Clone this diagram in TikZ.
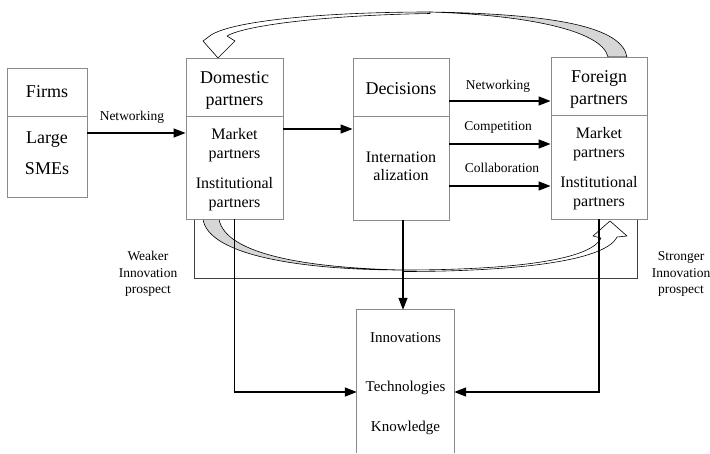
\documentclass[tikz,border=0pt]{standalone}
\usepackage{fontspec}
\setmainfont{Liberation Serif}
\usetikzlibrary{arrows.meta,calc}
\definecolor{boxgray}{HTML}{8A8A8A}
\definecolor{ribbon}{HTML}{D6D6D6}
\begin{document}
\begin{tikzpicture}[x=1pt,y=-1pt,
  box/.style={draw=boxgray,line width=0.9pt,fill=white,inner sep=0pt},
  divider/.style={draw=boxgray,line width=0.9pt},
  title/.style={font=\fontsize{18}{22}\selectfont,align=center,inner sep=0pt},
  body/.style={font=\fontsize{16}{19}\selectfont,align=center,inner sep=0pt},
  lbl/.style={font=\fontsize{13.5}{16.5}\selectfont,align=center,inner sep=0pt},
  inn/.style={font=\fontsize{15}{18}\selectfont,inner sep=0pt},
  conn/.style={line width=1.5pt,-{Triangle[length=12pt,width=9pt]}},
  frame/.style={draw=black!75,line width=0.9pt},
  rib/.style={draw=black,line width=0.6pt,line join=round}]
\useasboundingbox (0,0) rectangle (710,453);

% open frame under the partner boxes
\draw[frame] (194,219) -- (194,278) -- (637,278) -- (637,219);

% curved ribbon arrows
\filldraw[rib,fill=ribbon] (627,57) .. controls (622,28) and (560,14) .. (430,12)
  .. controls (525,15) and (602,30) .. (608,57) -- cycle;
\filldraw[rib,fill=white] (430,12) .. controls (330,12) and (235,20) .. (211,35)
  -- (203,41) -- (218,58) -- (235,41) -- (227,36)
  .. controls (245,25) and (330,15) .. (430,13.5) -- cycle;
\filldraw[rib,fill=ribbon] (203,219) .. controls (208,255) and (300,270) .. (403,270)
  .. controls (310,268) and (225,255) .. (219,219) -- cycle;
\filldraw[rib,fill=white] (403,270) .. controls (500,270) and (590,262) .. (601,238)
  -- (593,236) -- (610,221) -- (627,236) -- (617,237)
  .. controls (605,262) and (510,271.5) .. (403,271.5) -- cycle;

% boxes
\node[box,minimum width=80pt,minimum height=129pt] (firms) at (47,132.5) {};
\node[box,minimum width=97pt,minimum height=161pt] (dom) at (234.5,138.5) {};
\node[box,minimum width=96pt,minimum height=162pt] (dec) at (401,139) {};
\node[box,minimum width=96pt,minimum height=162pt] (for) at (599,138) {};
\node[inner sep=0pt,minimum width=97pt,minimum height=143pt] (inno) at (405.5,381.5) {};
\draw[divider] (inno.south west) -- (inno.north west) -- (inno.north east) -- (inno.south east);

\draw[divider] (firms.west |- 0,116) -- (firms.east |- 0,116);
\draw[divider] (dom.west |- 0,116) -- (dom.east |- 0,116);
\draw[divider] (dec.west |- 0,116) -- (dec.east |- 0,116);
\draw[divider] (for.west |- 0,115) -- (for.east |- 0,115);

% box texts
\node[title] (firmsT) at (47,92) {Firms};
\node[title,font=\fontsize{18}{31}\selectfont] (firmsB) at (47,153) {Large\\SMEs};
\node[title] (domT) at (234.5,90) {Domestic\\partners};
\node[body] (domM) at (234.5,145) {Market\\partners};
\node[body] (domI) at (234.5,194) {Institutional\\partners};
\node[title] (decT) at (401,89) {Decisions};
\node[body,font=\fontsize{16}{18}\selectfont] (decB) at (401,166) {Internation\\alization};
\node[title] (forT) at (599,89) {Foreign\\partners};
\node[body] (forM) at (599,144) {Market\\partners};
\node[body] (forI) at (599,193.5) {Institutional\\partners};
\node[inn] (innA) at (405.5,338) {Innovations};
\node[inn] (innB) at (405.5,388) {Technologies};
\node[inn] (innC) at (405.5,428) {Knowledge};

% side labels
\node[lbl] (weak) at (148,274) {Weaker\\Innovation\\prospect};
\node[lbl] (strong) at (681,274) {Stronger\\Innovation\\prospect};

% connectors
\draw[conn] (firms.east |- 0,133) -- (dom.west |- 0,133);
\node[lbl] (net1) at (132,117) {Networking};
\draw[conn] (dom.east |- 0,129) -- (dec.west |- 0,129);
\draw[conn] (dec.east |- 0,101) -- (for.west |- 0,101);
\node[lbl] (net2) at (498,86) {Networking};
\draw[conn] (dec.east |- 0,144) -- (for.west |- 0,144);
\node[lbl] (comp) at (498,127) {Competition};
\draw[conn] (dec.east |- 0,186) -- (for.west |- 0,186);
\node[lbl] (coll) at (502,168) {Collaboration};

\draw[conn] ([xshift=2pt]dec.south) -- ([xshift=2pt]dec.south |- inno.north);
\draw[conn] (dom.south) |- (inno.west |- 0,392);
\draw[conn] (for.south) |- (inno.east |- 0,392);
\end{tikzpicture}
\end{document}
